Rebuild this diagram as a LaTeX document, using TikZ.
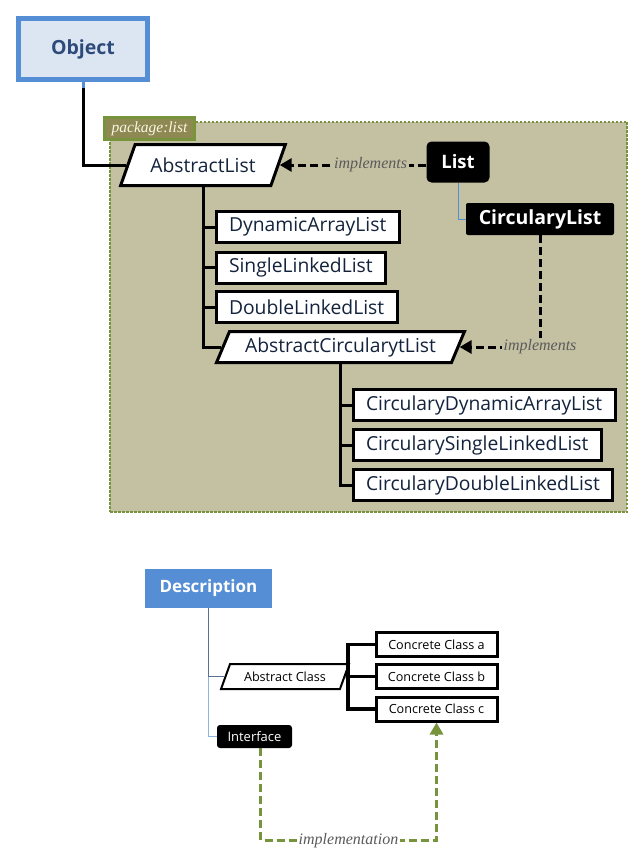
\documentclass[tikz,border=0pt]{standalone}
\usepackage{fontspec}
\setmainfont{Open Sans}
\newfontfamily\labelfont{Liberation Serif}
\usetikzlibrary{shapes.geometric,arrows.meta}

\definecolor{objBlue}{HTML}{558ED5}
\definecolor{objFill}{HTML}{DCE6F2}
\definecolor{objText}{HTML}{2E4A7A}
\definecolor{pkgFill}{HTML}{C4C0A2}
\definecolor{pkgTabFill}{HTML}{8E8853}
\definecolor{pkgGreen}{HTML}{77933C}
\definecolor{nodeText}{HTML}{14233C}
\definecolor{implGray}{HTML}{5A5A5A}
\definecolor{descDark}{HTML}{5A7090}
\definecolor{descLight}{HTML}{8DB3E2}

\begin{document}
\begin{tikzpicture}[x=1pt, y=-1pt,
    classbox/.style={draw=black, line width=3pt, fill=white, text=nodeText,
        minimum height=31pt, inner xsep=13pt, anchor=west,
        font=\fontsize{19.3}{21}\selectfont},
    smallbox/.style={draw=black, line width=3pt, fill=white, text=black,
        minimum height=24pt, minimum width=121pt, anchor=west,
        font=\fontsize{12.6}{14}\selectfont},
    abstractbox/.style={trapezium, trapezium stretches=true, draw=black,
        line width=3pt, fill=white, text=nodeText,
        font=\fontsize{19.3}{21}\selectfont},
    ifacebox/.style={fill=black, text=white, rounded corners=5pt,
        font=\bfseries\fontsize{18.5}{20}\selectfont},
    tree/.style={line width=3pt, black},
    implements/.style={line width=3pt, dash pattern=on 8pt off 4pt,
        -{Triangle[length=12pt, width=13pt]}},
    implabel/.style={fill=pkgFill, inner sep=1.5pt, text=implGray,
        font=\labelfont\itshape\fontsize{16}{18}\selectfont},
    ]
    \useasboundingbox (0,0) rectangle (644,864);

    \node[draw=objBlue, line width=5pt, fill=objFill, text=objText,
        minimum width=129pt, minimum height=61pt,
        font=\bfseries\fontsize{19.5}{21}\selectfont] (Object) at (83,49) {Object};

    \node[draw=pkgGreen, line width=2.5pt, dash pattern=on 2.5pt off 1.5pt,
        fill=pkgFill, minimum width=517pt, minimum height=390pt] (pkgList) at (368.5,317) {};
    \node[draw=pkgGreen, line width=3pt, fill=pkgTabFill, text={rgb,255:red,250;green,246;blue,226},
        minimum width=90pt, minimum height=22pt, inner sep=1pt,
        font=\labelfont\itshape\fontsize{15.5}{17}\selectfont] (pkgTab) at (149.5,128.5) {package:list};

    \node[abstractbox, trapezium left angle=61, trapezium right angle=119,
        minimum width=165pt, minimum height=41pt] (AbstractList) at (203,165) {AbstractList};

    \node[ifacebox, minimum width=63pt, minimum height=41pt] (List) at (458,162) {List};
    \node[ifacebox, rounded corners=2pt, minimum width=148pt, minimum height=32pt,
        font=\bfseries\fontsize{19.5}{21}\selectfont] (CircList) at (540,219) {CircularyList};

    \node[classbox] (DynArr) at (214.5,227) {DynamicArrayList};
    \node[classbox] (SingleLL) at (214.5,267.5) {SingleLinkedList};
    \node[classbox] (DoubleLL) at (214.5,307) {DoubleLinkedList};

    \node[abstractbox, trapezium left angle=66, trapezium right angle=114,
        minimum width=248pt, minimum height=31pt] (AbsCirc) at (340.5,347) {AbstractCircularytList};

    \node[classbox] (CircDynArr) at (351.5,405) {CircularyDynamicArrayList};
    \node[classbox] (CircSingleLL) at (351.5,445) {CircularySingleLinkedList};
    \node[classbox] (CircDoubleLL) at (351.5,485) {CircularyDoubleLinkedList};

    % Description
    \node[fill=objBlue, text=white, minimum width=127pt, minimum height=39pt,
        font=\bfseries\fontsize{17}{19}\selectfont] (Description) at (208.5,588.5) {Description};

    \node[trapezium, trapezium stretches=true, trapezium left angle=66, trapezium right angle=114,
        draw=black, line width=2pt, fill=white, minimum width=128pt, minimum height=25pt,
        font=\fontsize{12.6}{14}\selectfont] (AbsClass) at (285,676.5) {Abstract Class};

    \node[smallbox] (ConcA) at (374.5,644.5) {Concrete Class a};
    \node[smallbox] (ConcB) at (374.5,676.5) {Concrete Class b};
    \node[smallbox] (ConcC) at (374.5,709) {Concrete Class c};

    \node[ifacebox, rounded corners=3pt, minimum width=75pt, minimum height=23pt,
        font=\fontsize{13}{15}\selectfont] (Interface) at (254.5,736.5) {Interface};

    \coordinate (fork) at (348,676.5);

    %Lines
    \draw[tree] (Object.south) |- (AbstractList.west);
    \draw[objBlue, line width=3pt] (Object.south) -- ++(0,6);

    \foreach \n in {DynArr, SingleLL, DoubleLL, AbsCirc}
        \draw[tree] (AbstractList.south) |- (\n.west);
    \foreach \n in {CircDynArr, CircSingleLL, CircDoubleLL}
        \draw[tree] (AbsCirc.south) |- (\n.west);

    \draw[implements] (List.west |- AbstractList.east) -- (AbstractList.east)
        node[implabel, pos=0.38] {implements};
    \draw[objBlue, line width=1pt] (List.south) |- (CircList.west);
    \draw[implements] (CircList.south) |- (AbsCirc.east)
        node[implabel, pos=0.5] {implements};

    \draw[descDark, line width=1pt] (Description.south) |- (AbsClass.west);
    \draw[descLight, line width=1pt] (Description.south |- AbsClass.west) |- (Interface.west);

    \draw[line width=3.5pt] (AbsClass.east) -- (fork);
    \draw[line width=3.5pt] (ConcA.west) -| (fork) |- (ConcC.west);
    \draw[line width=3.5pt] (fork) -- (ConcB.west);

    \draw[pkgGreen, line width=3pt, dash pattern=on 8pt off 4pt,
        -{Triangle[length=12pt, width=13pt]}]
        ([xshift=6pt]Interface.south) -- ++(0,92) -| (ConcC.south)
        node[implabel, fill=white, text=implGray, pos=0.25] {implementation};
\end{tikzpicture}
\end{document}
